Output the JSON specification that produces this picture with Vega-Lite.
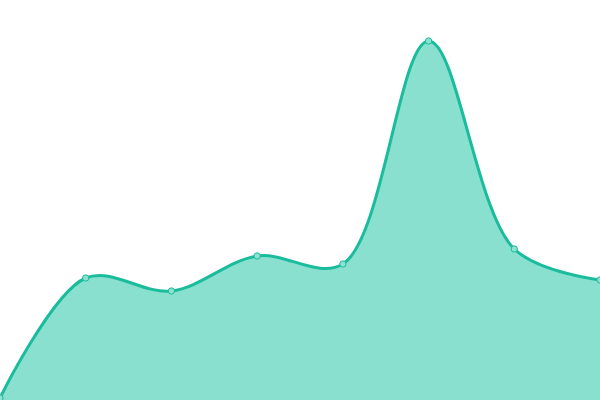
{
  "$schema": "https://vega.github.io/schema/vega-lite/v6.json",
  "width": 600,
  "height": 400,
  "padding": 0,
  "autosize": {"type": "none"},
  "background": "white",
  "config": {"view": {"stroke": null}},
  "data": {"values": [
    {"i": 0, "v": 2},
    {"i": 1, "v": 122},
    {"i": 2, "v": 109},
    {"i": 3, "v": 144},
    {"i": 4, "v": 136},
    {"i": 5, "v": 359},
    {"i": 6, "v": 151},
    {"i": 7, "v": 120}
  ]},
  "encoding": {
    "x": {"field": "i", "type": "quantitative", "scale": {"domain": [0, 7], "nice": false, "zero": false}, "axis": null},
    "y": {"field": "v", "type": "quantitative", "scale": {"domain": [0, 400], "nice": false}, "axis": null}
  },
  "layer": [
    {"mark": {"type": "area", "interpolate": "catmull-rom", "color": "#89e0cf", "opacity": 1}},
    {"mark": {"type": "line", "interpolate": "catmull-rom", "color": "#1abc9c", "strokeWidth": 3}},
    {"mark": {"type": "point", "filled": true, "fill": "#8ee0d0", "stroke": "#1abc9c", "strokeWidth": 1, "size": 40, "opacity": 1}}
  ]
}
